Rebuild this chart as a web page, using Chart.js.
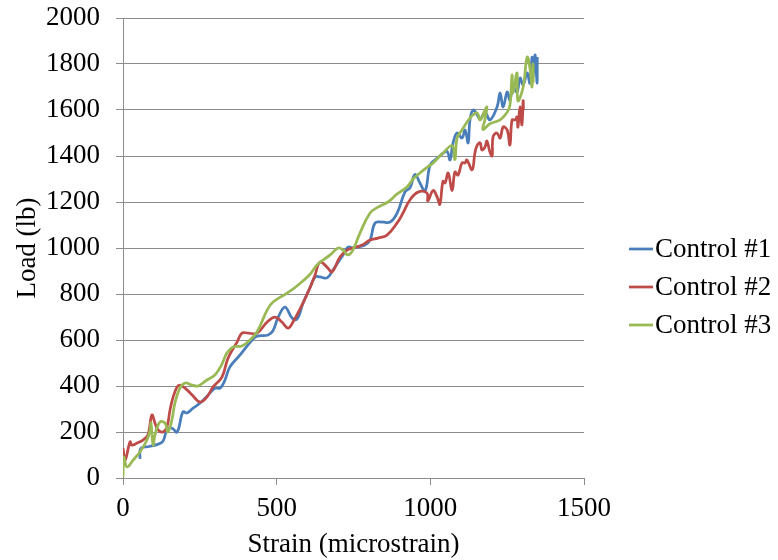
<!DOCTYPE html>
<html>
<head>
<meta charset="utf-8">
<script src="https://cdn.jsdelivr.net/npm/chart.js@4.4.1/dist/chart.umd.min.js"></script>
<style>
  body { margin: 0; background: #fff; }
  #wrap { width: 778px; height: 560px; }
</style>
</head>
<body>
<div id="wrap"><canvas id="chart" width="778" height="560"></canvas></div>
<script>
const seriesNames = ['Control #1', 'Control #2', 'Control #3'];
const seriesColors = ['#4A7EBB', '#BE4B48', '#98B954'];
const xTicks = [0, 500, 1000, 1500];
const yTicks = [0, 200, 400, 600, 800, 1000, 1200, 1400, 1600, 1800, 2000];

// Control #1 (strain, load)
const control1Strain = [55, 58, 85, 110, 130, 143, 159, 176, 195, 208, 228, 251, 277, 299, 316, 330, 348, 381, 420, 436, 472, 488, 504, 527, 550, 566, 586, 608, 625, 641, 664, 683, 716, 732, 748, 787, 804, 820, 843, 869, 892, 918, 934, 950, 966, 983, 999, 1015, 1031, 1054, 1064, 1074, 1087, 1103, 1113, 1123, 1129, 1139, 1152, 1162, 1178, 1194, 1217, 1227, 1237, 1250, 1259, 1269, 1282, 1292, 1302, 1315, 1324, 1331, 1334, 1341, 1347, 1348];
const control1Load = [83, 128, 137, 145, 160, 209, 217, 200, 287, 283, 304, 326, 361, 390, 391, 420, 483, 535, 600, 617, 622, 640, 696, 743, 696, 690, 761, 826, 874, 874, 870, 904, 970, 1004, 1000, 1013, 1035, 1109, 1113, 1113, 1152, 1245, 1262, 1320, 1283, 1248, 1360, 1383, 1400, 1420, 1383, 1457, 1500, 1478, 1513, 1457, 1557, 1600, 1580, 1560, 1590, 1557, 1613, 1674, 1613, 1678, 1643, 1700, 1678, 1739, 1709, 1761, 1717, 1830, 1743, 1839, 1717, 1830];

// Control #2
const control2Strain = [0, 7, 23, 29, 46, 65, 81, 94, 104, 114, 130, 143, 153, 163, 176, 185, 202, 225, 251, 273, 293, 322, 342, 371, 387, 407, 436, 469, 495, 517, 537, 553, 586, 608, 625, 641, 664, 680, 706, 729, 748, 778, 804, 830, 859, 892, 911, 934, 960, 989, 992, 1009, 1022, 1031, 1041, 1048, 1058, 1071, 1080, 1090, 1103, 1113, 1119, 1136, 1145, 1152, 1162, 1168, 1178, 1184, 1194, 1201, 1204, 1217, 1227, 1237, 1250, 1259, 1266, 1276, 1282, 1285, 1292, 1298, 1302, 1303];
const control2Load = [130, 78, 157, 143, 152, 165, 187, 274, 239, 209, 200, 222, 296, 352, 396, 404, 391, 361, 330, 352, 396, 439, 522, 591, 630, 630, 630, 678, 700, 678, 652, 678, 761, 826, 883, 939, 917, 896, 961, 991, 1000, 1013, 1035, 1043, 1056, 1109, 1152, 1210, 1243, 1239, 1205, 1250, 1222, 1190, 1290, 1283, 1326, 1250, 1330, 1317, 1370, 1370, 1383, 1340, 1413, 1445, 1457, 1426, 1440, 1465, 1417, 1400, 1483, 1500, 1478, 1526, 1513, 1448, 1557, 1557, 1570, 1526, 1613, 1535, 1640, 1600];

// Control #3
const control3Strain = [0, 3, 13, 33, 55, 78, 88, 91, 98, 104, 120, 137, 146, 159, 169, 185, 202, 225, 244, 273, 299, 320, 338, 358, 387, 413, 436, 469, 488, 534, 566, 608, 631, 674, 700, 716, 732, 748, 771, 804, 830, 862, 892, 924, 944, 966, 989, 1009, 1041, 1071, 1080, 1087, 1103, 1129, 1152, 1162, 1178, 1184, 1178, 1171, 1194, 1227, 1250, 1259, 1266, 1269, 1282, 1285, 1302, 1315, 1324, 1331, 1334, 1335];
const control3Load = [4, 91, 48, 78, 113, 165, 209, 239, 143, 187, 243, 239, 200, 252, 326, 391, 413, 404, 400, 426, 448, 490, 543, 570, 574, 600, 635, 730, 765, 804, 835, 885, 926, 970, 1000, 991, 970, 991, 1065, 1152, 1178, 1200, 1235, 1265, 1300, 1326, 1350, 1370, 1413, 1445, 1385, 1478, 1513, 1565, 1587, 1557, 1600, 1613, 1560, 1515, 1540, 1557, 1590, 1620, 1752, 1674, 1761, 1640, 1700, 1830, 1783, 1700, 1800, 1720];

const toPoints = (xs, ys) => xs.map((x, i) => ({ x: x, y: ys[i] }));
const seriesData = [
  toPoints(control1Strain, control1Load),
  toPoints(control2Strain, control2Load),
  toPoints(control3Strain, control3Load)
];

const fontFamily = '"Liberation Serif", "Times New Roman", serif';
const gridColor = '#8C8C8C';

// legend drawn at the right like the original
const sideLegend = {
  id: 'sideLegend',
  afterDraw(chart) {
    const ctx = chart.ctx;
    ctx.save();
    ctx.font = '27px ' + fontFamily;
    ctx.textBaseline = 'middle';
    ctx.fillStyle = '#000';
    chart.data.datasets.forEach((ds, i) => {
      const y = 249 + i * 38;
      ctx.strokeStyle = ds.borderColor;
      ctx.lineWidth = 2.75;
      ctx.beginPath();
      ctx.moveTo(629, y);
      ctx.lineTo(653, y);
      ctx.stroke();
      ctx.fillText(ds.label, 655, y + 1);
    });
    ctx.restore();
  }
};

new Chart(document.getElementById('chart'), {
  type: 'scatter',
  data: {
    datasets: seriesNames.map((name, i) => ({
      label: name,
      data: seriesData[i],
      showLine: true,
      borderColor: seriesColors[i],
      backgroundColor: seriesColors[i],
      borderWidth: 2.75,
      pointRadius: 0,
      tension: 0.4,
      order: 2 - i
    }))
  },
  options: {
    responsive: false,
    animation: false,
    events: [],
    layout: { padding: { top: 18, right: 194, left: 0, bottom: 0 } },
    plugins: { legend: { display: false }, tooltip: { enabled: false } },
    scales: {
      x: {
        type: 'linear',
        min: 0,
        max: 1500,
        afterBuildTicks: s => { s.ticks = xTicks.map(v => ({ value: v })); },
        afterFit: s => { s.height = 82; },
        ticks: { color: '#000', font: { family: fontFamily, size: 27 }, padding: 8, maxRotation: 0, callback: v => String(v) },
        grid: { drawOnChartArea: false, drawTicks: true, tickLength: 7, color: gridColor },
        border: { color: gridColor },
        title: {
          display: true,
          text: 'Strain (microstrain)',
          color: '#000',
          font: { family: fontFamily, size: 27, lineHeight: 1.1 },
          padding: { top: 0, bottom: 0 }
        }
      },
      y: {
        min: 0,
        max: 2000,
        afterBuildTicks: s => { s.ticks = yTicks.map(v => ({ value: v })); },
        afterFit: s => { s.width = 123; s.paddingTop = 0; s.paddingBottom = 0; },
        ticks: { color: '#000', font: { family: fontFamily, size: 27 }, padding: 16, callback: v => String(v) },
        grid: { color: gridColor, tickLength: 7 },
        border: { color: gridColor },
        title: {
          display: true,
          text: 'Load (lb)',
          color: '#000',
          font: { family: fontFamily, size: 27, lineHeight: 1.1 },
          padding: { top: 13, bottom: 0 }
        }
      }
    }
  },
  plugins: [sideLegend]
});
</script>
</body>
</html>
